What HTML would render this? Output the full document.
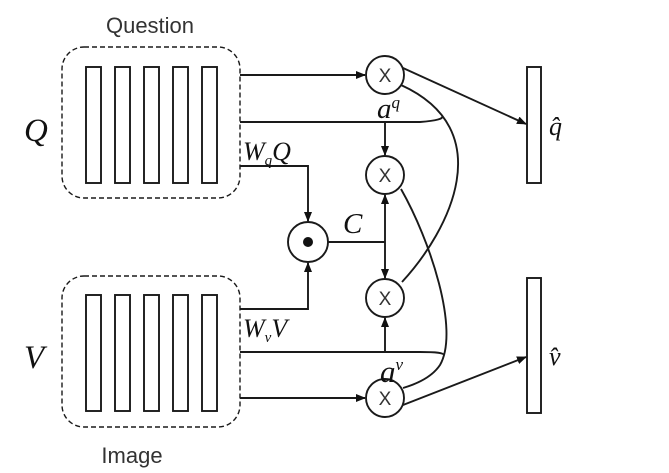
<!DOCTYPE html>
<html><head><style>body{margin:0;background:#fff}</style></head><body>
<svg width="669" height="468" xmlns="http://www.w3.org/2000/svg">
<defs><marker id="a" markerWidth="10" markerHeight="8" refX="9" refY="4" orient="auto" markerUnits="userSpaceOnUse"><path d="M0,0 L10,4 L0,8 z" fill="#111"/></marker></defs>
<g fill="none" stroke="#1a1a1a" stroke-width="1.9">
<rect x="62" y="47" width="178" height="151" rx="22" stroke-dasharray="5,3" stroke-width="1.4"/>
<rect x="62" y="276" width="178" height="151" rx="22" stroke-dasharray="5,3" stroke-width="1.4"/>
<rect x="86" y="67" width="15" height="116"/><rect x="115" y="67" width="15" height="116"/><rect x="144" y="67" width="15" height="116"/><rect x="173" y="67" width="15" height="116"/><rect x="202" y="67" width="15" height="116"/>
<rect x="86" y="295" width="15" height="116"/><rect x="115" y="295" width="15" height="116"/><rect x="144" y="295" width="15" height="116"/><rect x="173" y="295" width="15" height="116"/><rect x="202" y="295" width="15" height="116"/>
<rect x="527" y="67" width="14" height="116"/><rect x="527" y="278" width="14" height="135"/>
<circle cx="385" cy="75" r="19"/><circle cx="385" cy="175" r="19"/><circle cx="385" cy="298" r="19"/><circle cx="385" cy="398" r="19"/><circle cx="308" cy="242" r="20"/>
<line x1="240" y1="75" x2="365" y2="75" marker-end="url(#a)"/>
<line x1="240" y1="398" x2="365" y2="398" marker-end="url(#a)"/>
<path d="M240,122 L420,122 Q445,120 442,116"/>
<path d="M240,352 L420,352 Q445,352 443,355"/>
<line x1="385" y1="122" x2="385" y2="155" marker-end="url(#a)"/>
<polyline points="240,166 308,166 308,221" marker-end="url(#a)"/>
<polyline points="240,309 308,309 308,263" marker-end="url(#a)"/>
<line x1="328" y1="242" x2="385" y2="242"/>
<line x1="385" y1="242" x2="385" y2="195" marker-end="url(#a)"/>
<line x1="385" y1="242" x2="385" y2="278" marker-end="url(#a)"/>
<line x1="385" y1="352" x2="385" y2="318" marker-end="url(#a)"/>
<path d="M401,85 C500,130 450,230 402,282"/>
<path d="M401,189 C430,240 460,330 440,365 Q430,380 403,388"/>
<line x1="403" y1="68" x2="526" y2="124" marker-end="url(#a)"/>
<line x1="403" y1="405" x2="526" y2="357" marker-end="url(#a)"/>
</g>
<circle cx="308" cy="242" r="5" fill="#111"/>
<g font-family="Liberation Sans, sans-serif" font-size="19" fill="#333" text-anchor="middle">
<text x="385" y="82">X</text><text x="385" y="182">X</text><text x="385" y="305">X</text><text x="385" y="405">X</text>
<text x="150" y="33" font-size="22">Question</text><text x="132" y="463" font-size="22">Image</text>
</g>
<g font-family="Liberation Serif, serif" font-style="italic" fill="#111">
<text x="24" y="141" font-size="33">Q</text>
<text x="24" y="368" font-size="33">V</text>
<text x="243" y="160" font-size="26">W<tspan font-size="15" dy="5">q</tspan><tspan dy="-5">Q</tspan></text>
<text x="243" y="337" font-size="26">W<tspan font-size="15" dy="5">v</tspan><tspan dy="-5">V</tspan></text>
<text x="343" y="233" font-size="29">C</text>
<text x="377" y="118" font-size="29">a<tspan font-size="17" dy="-10">q</tspan></text>
<text x="380" y="382" font-size="31">a<tspan font-size="17" dy="-12">v</tspan></text>
<text x="549" y="135" font-size="26">q̂</text>
<text x="549" y="365" font-size="26">v̂</text>
</g>
</svg>
</body></html>
